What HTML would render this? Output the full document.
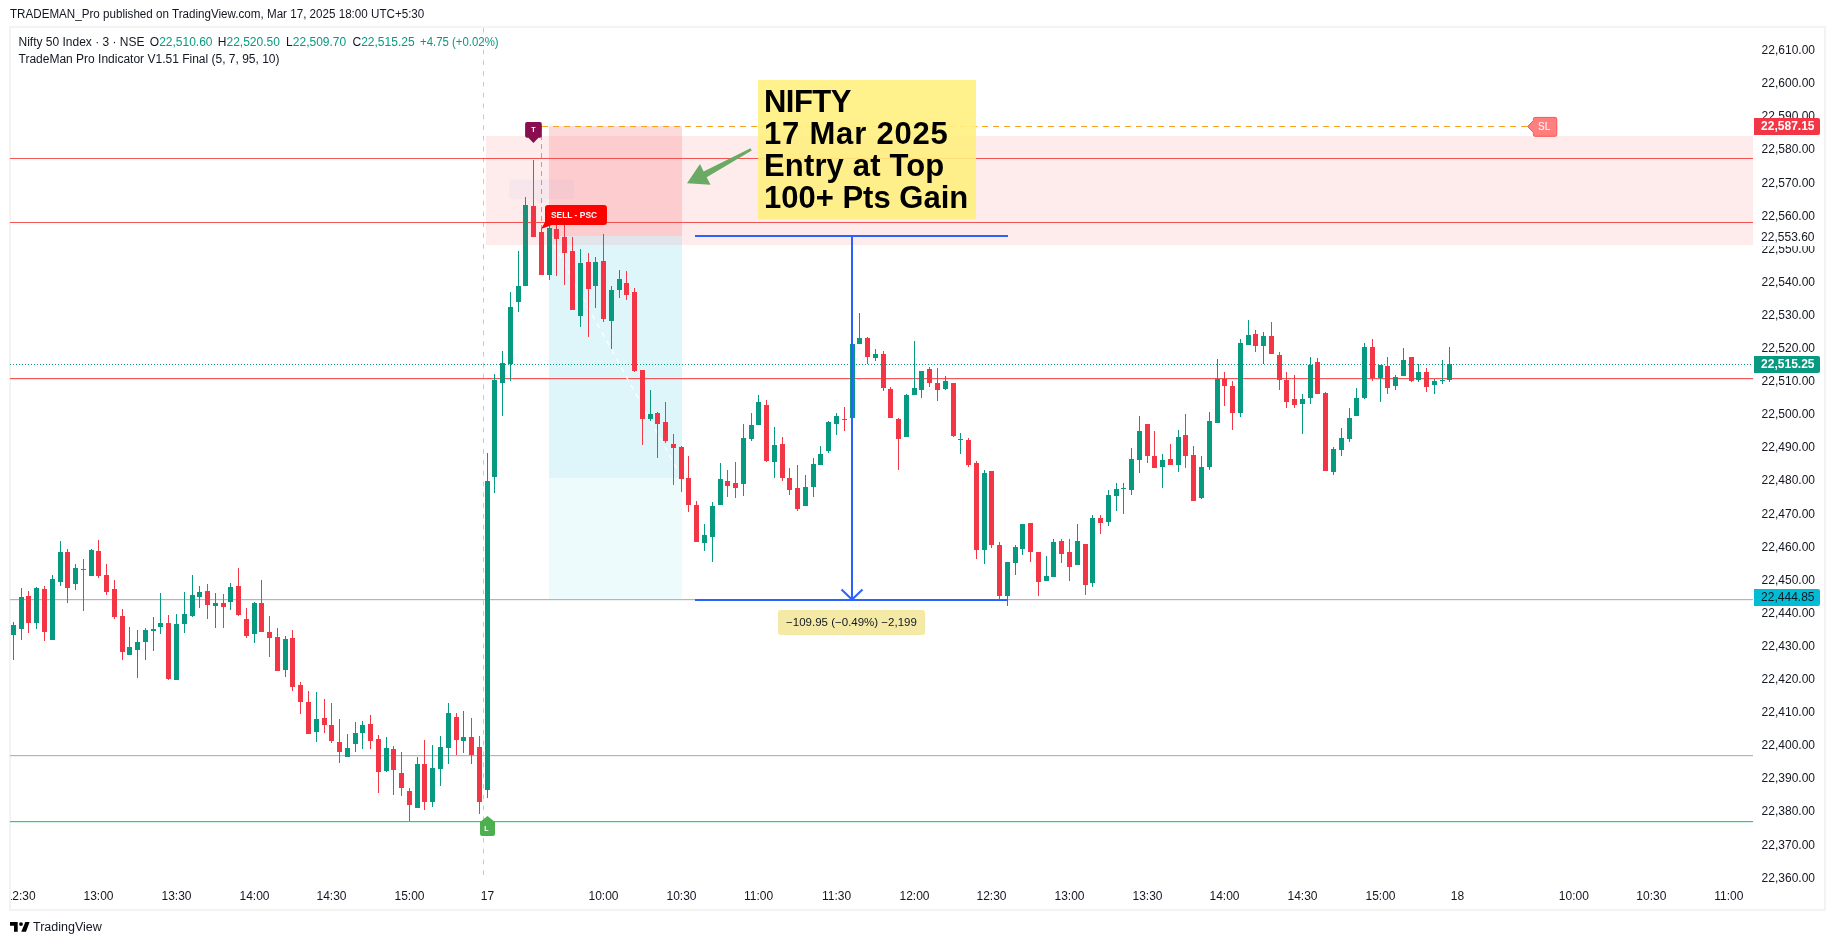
<!DOCTYPE html>
<html><head><meta charset="utf-8">
<style>
html,body{margin:0;padding:0;background:#fff;}
body{width:1835px;height:945px;position:relative;overflow:hidden;font-family:"Liberation Sans",sans-serif;color:#131722;-webkit-font-smoothing:antialiased;}
div{-webkit-font-smoothing:antialiased;}
.wc{position:absolute;left:0;top:0;width:1835px;height:945px;will-change:transform;}
.hdr{position:absolute;left:10px;top:8.4px;font-size:12.5px;line-height:12.5px;color:#131722;white-space:nowrap;transform:scaleX(0.93);transform-origin:0 0;}
.frame{position:absolute;left:9px;top:26px;width:1813px;height:881px;border:2px solid #f3f3f3;}
svg{position:absolute;left:0;top:0;}
.leg{position:absolute;font-size:12px;line-height:12px;white-space:nowrap;color:#131722;}
.g{color:#089981;}
.pl{position:absolute;left:1750px;width:65px;text-align:right;font-size:12px;line-height:14px;color:#131722;white-space:nowrap;}
.pb{position:absolute;left:1754px;width:66px;height:17px;box-sizing:border-box;padding-right:5.5px;text-align:right;font-size:12px;line-height:17px;white-space:nowrap;border-radius:0 2px 2px 0;}
.b{font-weight:bold;}
.tl{position:absolute;top:888.6px;width:60px;text-align:center;font-size:12px;line-height:14px;color:#131722;}
.note{position:absolute;left:764px;top:86.3px;font-size:31px;line-height:32px;font-weight:bold;color:#000;white-space:nowrap;}
.lbl{position:absolute;font-size:9px;font-weight:bold;color:#fff;white-space:nowrap;}
.ml{position:absolute;left:778px;top:615px;width:147px;text-align:center;font-size:11.5px;line-height:14px;color:#131722;}
.foot{position:absolute;left:33px;top:921.1px;font-size:12.5px;line-height:12.5px;color:#131722;}
</style></head><body>
<div class="wc"><div class="hdr">TRADEMAN_Pro published on TradingView.com, Mar 17, 2025 18:00 UTC+5:30</div>
<div class="frame"></div>
<svg width="1835" height="945" viewBox="0 0 1835 945">
<rect x="549" y="126" width="133" height="110" fill="rgba(242,54,69,0.18)"/>
<rect x="549" y="236" width="133" height="242" fill="rgba(0,188,212,0.13)"/>
<rect x="549" y="478" width="133" height="122" fill="rgba(0,188,212,0.065)"/>
<line x1="483.5" y1="28" x2="483.5" y2="879" stroke="#b4c9f5" stroke-width="1" stroke-dasharray="4.6,6.2"/>
<rect x="10" y="158" width="1743" height="1" fill="#f45757"/>
<rect x="10" y="222" width="1743" height="1" fill="#f45757"/>
<rect x="10" y="378" width="1743" height="1.2" fill="#f45757"/>
<rect x="10" y="599" width="1743" height="1.2" fill="#b2b5be"/>
<rect x="10" y="755" width="1743" height="1.2" fill="#b2b5be"/>
<rect x="10" y="821" width="1743" height="1.2" fill="#22d17a"/>
<line x1="10" y1="364.5" x2="1753" y2="364.5" stroke="#089981" stroke-width="1" stroke-dasharray="1,2"/>
<line x1="542" y1="126.5" x2="1530" y2="126.5" stroke="#f7a21b" stroke-width="1" stroke-dasharray="6,5"/>
<line x1="541.5" y1="126" x2="541.5" y2="229" stroke="#f7a21b" stroke-width="1" stroke-dasharray="5,4"/>
<line x1="549" y1="236" x2="682" y2="478" stroke="#ffffff" stroke-width="1.3" stroke-dasharray="5,5"/>
<rect x="11" y="625" width="5" height="10" fill="#089981"/>
<rect x="13" y="622" width="1" height="3" fill="#089981"/>
<rect x="13" y="635" width="1" height="25" fill="#089981"/>
<rect x="19" y="597" width="5" height="32" fill="#089981"/>
<rect x="21" y="588" width="1" height="9" fill="#089981"/>
<rect x="21" y="629" width="1" height="11" fill="#089981"/>
<rect x="26" y="596" width="5" height="27" fill="#f23645"/>
<rect x="28" y="591" width="1" height="5" fill="#f23645"/>
<rect x="28" y="623" width="1" height="10" fill="#f23645"/>
<rect x="34" y="588" width="5" height="35" fill="#089981"/>
<rect x="36" y="587" width="1" height="1" fill="#089981"/>
<rect x="36" y="623" width="1" height="6" fill="#089981"/>
<rect x="42" y="589" width="5" height="43" fill="#f23645"/>
<rect x="44" y="586" width="1" height="3" fill="#f23645"/>
<rect x="44" y="632" width="1" height="9" fill="#f23645"/>
<rect x="50" y="579" width="5" height="61" fill="#089981"/>
<rect x="52" y="575" width="1" height="4" fill="#089981"/>
<rect x="58" y="552" width="5" height="30" fill="#089981"/>
<rect x="60" y="541" width="1" height="11" fill="#089981"/>
<rect x="60" y="582" width="1" height="4" fill="#089981"/>
<rect x="65" y="552" width="5" height="36" fill="#f23645"/>
<rect x="67" y="549" width="1" height="3" fill="#f23645"/>
<rect x="67" y="588" width="1" height="15" fill="#f23645"/>
<rect x="73" y="568" width="5" height="16" fill="#089981"/>
<rect x="75" y="564" width="1" height="4" fill="#089981"/>
<rect x="75" y="584" width="1" height="6" fill="#089981"/>
<rect x="81" y="569" width="5" height="1" fill="#f23645"/>
<rect x="83" y="559" width="1" height="10" fill="#f23645"/>
<rect x="83" y="570" width="1" height="41" fill="#f23645"/>
<rect x="89" y="550" width="5" height="26" fill="#089981"/>
<rect x="91" y="549" width="1" height="1" fill="#089981"/>
<rect x="96" y="551" width="5" height="25" fill="#f23645"/>
<rect x="98" y="540" width="1" height="11" fill="#f23645"/>
<rect x="98" y="576" width="1" height="2" fill="#f23645"/>
<rect x="104" y="575" width="5" height="17" fill="#f23645"/>
<rect x="106" y="564" width="1" height="11" fill="#f23645"/>
<rect x="106" y="592" width="1" height="3" fill="#f23645"/>
<rect x="112" y="589" width="5" height="28" fill="#f23645"/>
<rect x="114" y="580" width="1" height="9" fill="#f23645"/>
<rect x="114" y="617" width="1" height="2" fill="#f23645"/>
<rect x="120" y="616" width="5" height="36" fill="#f23645"/>
<rect x="122" y="609" width="1" height="7" fill="#f23645"/>
<rect x="122" y="652" width="1" height="8" fill="#f23645"/>
<rect x="127" y="647" width="5" height="8" fill="#089981"/>
<rect x="129" y="627" width="1" height="20" fill="#089981"/>
<rect x="135" y="642" width="5" height="8" fill="#089981"/>
<rect x="137" y="630" width="1" height="12" fill="#089981"/>
<rect x="137" y="650" width="1" height="28" fill="#089981"/>
<rect x="143" y="630" width="5" height="12" fill="#089981"/>
<rect x="145" y="628" width="1" height="2" fill="#089981"/>
<rect x="145" y="642" width="1" height="18" fill="#089981"/>
<rect x="151" y="629" width="5" height="2" fill="#089981"/>
<rect x="153" y="617" width="1" height="12" fill="#089981"/>
<rect x="153" y="631" width="1" height="20" fill="#089981"/>
<rect x="158" y="623" width="5" height="4" fill="#089981"/>
<rect x="160" y="593" width="1" height="30" fill="#089981"/>
<rect x="160" y="627" width="1" height="7" fill="#089981"/>
<rect x="166" y="623" width="5" height="56" fill="#f23645"/>
<rect x="168" y="615" width="1" height="8" fill="#f23645"/>
<rect x="168" y="679" width="1" height="1" fill="#f23645"/>
<rect x="174" y="624" width="5" height="56" fill="#089981"/>
<rect x="176" y="614" width="1" height="10" fill="#089981"/>
<rect x="182" y="614" width="5" height="10" fill="#089981"/>
<rect x="184" y="592" width="1" height="22" fill="#089981"/>
<rect x="184" y="624" width="1" height="9" fill="#089981"/>
<rect x="190" y="595" width="5" height="21" fill="#089981"/>
<rect x="192" y="575" width="1" height="20" fill="#089981"/>
<rect x="192" y="616" width="1" height="1" fill="#089981"/>
<rect x="197" y="592" width="5" height="5" fill="#089981"/>
<rect x="199" y="586" width="1" height="6" fill="#089981"/>
<rect x="199" y="597" width="1" height="11" fill="#089981"/>
<rect x="205" y="591" width="5" height="14" fill="#f23645"/>
<rect x="207" y="584" width="1" height="7" fill="#f23645"/>
<rect x="207" y="605" width="1" height="14" fill="#f23645"/>
<rect x="213" y="603" width="5" height="3" fill="#089981"/>
<rect x="215" y="593" width="1" height="10" fill="#089981"/>
<rect x="215" y="606" width="1" height="22" fill="#089981"/>
<rect x="221" y="603" width="5" height="4" fill="#f23645"/>
<rect x="223" y="594" width="1" height="9" fill="#f23645"/>
<rect x="223" y="607" width="1" height="21" fill="#f23645"/>
<rect x="228" y="587" width="5" height="15" fill="#089981"/>
<rect x="230" y="583" width="1" height="4" fill="#089981"/>
<rect x="230" y="602" width="1" height="8" fill="#089981"/>
<rect x="236" y="586" width="5" height="29" fill="#f23645"/>
<rect x="238" y="568" width="1" height="18" fill="#f23645"/>
<rect x="238" y="615" width="1" height="1" fill="#f23645"/>
<rect x="244" y="619" width="5" height="17" fill="#f23645"/>
<rect x="246" y="608" width="1" height="11" fill="#f23645"/>
<rect x="246" y="636" width="1" height="2" fill="#f23645"/>
<rect x="252" y="603" width="5" height="31" fill="#089981"/>
<rect x="254" y="602" width="1" height="1" fill="#089981"/>
<rect x="254" y="634" width="1" height="9" fill="#089981"/>
<rect x="259" y="603" width="5" height="29" fill="#f23645"/>
<rect x="261" y="580" width="1" height="23" fill="#f23645"/>
<rect x="267" y="632" width="5" height="6" fill="#f23645"/>
<rect x="269" y="616" width="1" height="16" fill="#f23645"/>
<rect x="269" y="638" width="1" height="19" fill="#f23645"/>
<rect x="275" y="637" width="5" height="34" fill="#f23645"/>
<rect x="277" y="628" width="1" height="9" fill="#f23645"/>
<rect x="283" y="639" width="5" height="31" fill="#089981"/>
<rect x="285" y="636" width="1" height="3" fill="#089981"/>
<rect x="285" y="670" width="1" height="7" fill="#089981"/>
<rect x="290" y="638" width="5" height="49" fill="#f23645"/>
<rect x="292" y="630" width="1" height="8" fill="#f23645"/>
<rect x="292" y="687" width="1" height="4" fill="#f23645"/>
<rect x="298" y="685" width="5" height="17" fill="#f23645"/>
<rect x="300" y="682" width="1" height="3" fill="#f23645"/>
<rect x="300" y="702" width="1" height="12" fill="#f23645"/>
<rect x="306" y="702" width="5" height="32" fill="#f23645"/>
<rect x="308" y="691" width="1" height="11" fill="#f23645"/>
<rect x="314" y="719" width="5" height="13" fill="#089981"/>
<rect x="316" y="692" width="1" height="27" fill="#089981"/>
<rect x="316" y="732" width="1" height="10" fill="#089981"/>
<rect x="322" y="718" width="5" height="7" fill="#f23645"/>
<rect x="324" y="699" width="1" height="19" fill="#f23645"/>
<rect x="324" y="725" width="1" height="8" fill="#f23645"/>
<rect x="329" y="725" width="5" height="16" fill="#f23645"/>
<rect x="331" y="703" width="1" height="22" fill="#f23645"/>
<rect x="331" y="741" width="1" height="2" fill="#f23645"/>
<rect x="337" y="742" width="5" height="10" fill="#f23645"/>
<rect x="339" y="719" width="1" height="23" fill="#f23645"/>
<rect x="339" y="752" width="1" height="11" fill="#f23645"/>
<rect x="345" y="748" width="5" height="9" fill="#089981"/>
<rect x="347" y="734" width="1" height="14" fill="#089981"/>
<rect x="353" y="733" width="5" height="11" fill="#089981"/>
<rect x="355" y="722" width="1" height="11" fill="#089981"/>
<rect x="355" y="744" width="1" height="8" fill="#089981"/>
<rect x="360" y="725" width="5" height="8" fill="#089981"/>
<rect x="362" y="721" width="1" height="4" fill="#089981"/>
<rect x="362" y="733" width="1" height="16" fill="#089981"/>
<rect x="368" y="724" width="5" height="17" fill="#f23645"/>
<rect x="370" y="715" width="1" height="9" fill="#f23645"/>
<rect x="370" y="741" width="1" height="8" fill="#f23645"/>
<rect x="376" y="739" width="5" height="33" fill="#f23645"/>
<rect x="378" y="735" width="1" height="4" fill="#f23645"/>
<rect x="378" y="772" width="1" height="21" fill="#f23645"/>
<rect x="384" y="748" width="5" height="23" fill="#089981"/>
<rect x="386" y="737" width="1" height="11" fill="#089981"/>
<rect x="386" y="771" width="1" height="1" fill="#089981"/>
<rect x="391" y="749" width="5" height="21" fill="#f23645"/>
<rect x="393" y="746" width="1" height="3" fill="#f23645"/>
<rect x="393" y="770" width="1" height="25" fill="#f23645"/>
<rect x="399" y="773" width="5" height="15" fill="#f23645"/>
<rect x="401" y="752" width="1" height="21" fill="#f23645"/>
<rect x="401" y="788" width="1" height="8" fill="#f23645"/>
<rect x="407" y="791" width="5" height="14" fill="#f23645"/>
<rect x="409" y="788" width="1" height="3" fill="#f23645"/>
<rect x="409" y="805" width="1" height="16" fill="#f23645"/>
<rect x="415" y="764" width="5" height="44" fill="#089981"/>
<rect x="417" y="757" width="1" height="7" fill="#089981"/>
<rect x="422" y="764" width="5" height="38" fill="#f23645"/>
<rect x="424" y="740" width="1" height="24" fill="#f23645"/>
<rect x="424" y="802" width="1" height="8" fill="#f23645"/>
<rect x="430" y="768" width="5" height="34" fill="#089981"/>
<rect x="432" y="745" width="1" height="23" fill="#089981"/>
<rect x="432" y="802" width="1" height="5" fill="#089981"/>
<rect x="438" y="747" width="5" height="22" fill="#089981"/>
<rect x="440" y="736" width="1" height="11" fill="#089981"/>
<rect x="440" y="769" width="1" height="17" fill="#089981"/>
<rect x="446" y="713" width="5" height="35" fill="#089981"/>
<rect x="448" y="703" width="1" height="10" fill="#089981"/>
<rect x="448" y="748" width="1" height="16" fill="#089981"/>
<rect x="454" y="717" width="5" height="23" fill="#f23645"/>
<rect x="456" y="713" width="1" height="4" fill="#f23645"/>
<rect x="456" y="740" width="1" height="15" fill="#f23645"/>
<rect x="461" y="737" width="5" height="4" fill="#089981"/>
<rect x="463" y="711" width="1" height="26" fill="#089981"/>
<rect x="463" y="741" width="1" height="12" fill="#089981"/>
<rect x="469" y="737" width="5" height="18" fill="#f23645"/>
<rect x="471" y="718" width="1" height="19" fill="#f23645"/>
<rect x="471" y="755" width="1" height="9" fill="#f23645"/>
<rect x="477" y="747" width="5" height="55" fill="#f23645"/>
<rect x="479" y="736" width="1" height="11" fill="#f23645"/>
<rect x="479" y="802" width="1" height="12" fill="#f23645"/>
<rect x="485" y="481" width="5" height="309" fill="#089981"/>
<rect x="487" y="453" width="1" height="28" fill="#089981"/>
<rect x="487" y="790" width="1" height="8" fill="#089981"/>
<rect x="492" y="380" width="5" height="97" fill="#089981"/>
<rect x="494" y="374" width="1" height="6" fill="#089981"/>
<rect x="494" y="477" width="1" height="16" fill="#089981"/>
<rect x="500" y="363" width="5" height="20" fill="#089981"/>
<rect x="502" y="351" width="1" height="12" fill="#089981"/>
<rect x="502" y="383" width="1" height="33" fill="#089981"/>
<rect x="508" y="307" width="5" height="57" fill="#089981"/>
<rect x="510" y="292" width="1" height="15" fill="#089981"/>
<rect x="510" y="364" width="1" height="17" fill="#089981"/>
<rect x="516" y="286" width="5" height="16" fill="#089981"/>
<rect x="518" y="251" width="1" height="35" fill="#089981"/>
<rect x="518" y="302" width="1" height="10" fill="#089981"/>
<rect x="523" y="205" width="5" height="81" fill="#089981"/>
<rect x="525" y="197" width="1" height="8" fill="#089981"/>
<rect x="531" y="206" width="5" height="31" fill="#f23645"/>
<rect x="533" y="160" width="1" height="46" fill="#f23645"/>
<rect x="539" y="232" width="5" height="43" fill="#f23645"/>
<rect x="541" y="229" width="1" height="3" fill="#f23645"/>
<rect x="547" y="228" width="5" height="47" fill="#089981"/>
<rect x="549" y="225" width="1" height="3" fill="#089981"/>
<rect x="549" y="275" width="1" height="5" fill="#089981"/>
<rect x="554" y="229" width="5" height="10" fill="#f23645"/>
<rect x="556" y="225" width="1" height="4" fill="#f23645"/>
<rect x="556" y="239" width="1" height="37" fill="#f23645"/>
<rect x="562" y="237" width="5" height="16" fill="#f23645"/>
<rect x="564" y="225" width="1" height="12" fill="#f23645"/>
<rect x="564" y="253" width="1" height="32" fill="#f23645"/>
<rect x="570" y="251" width="5" height="59" fill="#f23645"/>
<rect x="572" y="237" width="1" height="14" fill="#f23645"/>
<rect x="578" y="263" width="5" height="53" fill="#089981"/>
<rect x="580" y="249" width="1" height="14" fill="#089981"/>
<rect x="580" y="316" width="1" height="11" fill="#089981"/>
<rect x="586" y="262" width="5" height="27" fill="#f23645"/>
<rect x="588" y="253" width="1" height="9" fill="#f23645"/>
<rect x="588" y="289" width="1" height="48" fill="#f23645"/>
<rect x="593" y="262" width="5" height="24" fill="#089981"/>
<rect x="595" y="257" width="1" height="5" fill="#089981"/>
<rect x="595" y="286" width="1" height="22" fill="#089981"/>
<rect x="601" y="261" width="5" height="58" fill="#f23645"/>
<rect x="603" y="234" width="1" height="27" fill="#f23645"/>
<rect x="603" y="319" width="1" height="3" fill="#f23645"/>
<rect x="609" y="290" width="5" height="31" fill="#089981"/>
<rect x="611" y="286" width="1" height="4" fill="#089981"/>
<rect x="611" y="321" width="1" height="28" fill="#089981"/>
<rect x="617" y="279" width="5" height="11" fill="#089981"/>
<rect x="619" y="270" width="1" height="9" fill="#089981"/>
<rect x="619" y="290" width="1" height="8" fill="#089981"/>
<rect x="624" y="283" width="5" height="12" fill="#f23645"/>
<rect x="626" y="271" width="1" height="12" fill="#f23645"/>
<rect x="626" y="295" width="1" height="5" fill="#f23645"/>
<rect x="632" y="292" width="5" height="79" fill="#f23645"/>
<rect x="634" y="288" width="1" height="4" fill="#f23645"/>
<rect x="634" y="371" width="1" height="1" fill="#f23645"/>
<rect x="640" y="370" width="5" height="49" fill="#f23645"/>
<rect x="642" y="419" width="1" height="26" fill="#f23645"/>
<rect x="648" y="414" width="5" height="5" fill="#089981"/>
<rect x="650" y="390" width="1" height="24" fill="#089981"/>
<rect x="650" y="419" width="1" height="2" fill="#089981"/>
<rect x="655" y="413" width="5" height="11" fill="#f23645"/>
<rect x="657" y="412" width="1" height="1" fill="#f23645"/>
<rect x="657" y="424" width="1" height="34" fill="#f23645"/>
<rect x="663" y="422" width="5" height="19" fill="#f23645"/>
<rect x="665" y="402" width="1" height="20" fill="#f23645"/>
<rect x="665" y="441" width="1" height="2" fill="#f23645"/>
<rect x="671" y="444" width="5" height="4" fill="#f23645"/>
<rect x="673" y="434" width="1" height="10" fill="#f23645"/>
<rect x="673" y="448" width="1" height="37" fill="#f23645"/>
<rect x="679" y="447" width="5" height="32" fill="#f23645"/>
<rect x="681" y="446" width="1" height="1" fill="#f23645"/>
<rect x="681" y="479" width="1" height="13" fill="#f23645"/>
<rect x="686" y="478" width="5" height="27" fill="#f23645"/>
<rect x="688" y="456" width="1" height="22" fill="#f23645"/>
<rect x="688" y="505" width="1" height="7" fill="#f23645"/>
<rect x="694" y="505" width="5" height="37" fill="#f23645"/>
<rect x="696" y="501" width="1" height="4" fill="#f23645"/>
<rect x="702" y="535" width="5" height="8" fill="#089981"/>
<rect x="704" y="524" width="1" height="11" fill="#089981"/>
<rect x="704" y="543" width="1" height="8" fill="#089981"/>
<rect x="710" y="506" width="5" height="31" fill="#089981"/>
<rect x="712" y="502" width="1" height="4" fill="#089981"/>
<rect x="712" y="537" width="1" height="25" fill="#089981"/>
<rect x="718" y="479" width="5" height="26" fill="#089981"/>
<rect x="720" y="463" width="1" height="16" fill="#089981"/>
<rect x="725" y="481" width="5" height="5" fill="#f23645"/>
<rect x="727" y="470" width="1" height="11" fill="#f23645"/>
<rect x="727" y="486" width="1" height="11" fill="#f23645"/>
<rect x="733" y="483" width="5" height="5" fill="#f23645"/>
<rect x="735" y="462" width="1" height="21" fill="#f23645"/>
<rect x="735" y="488" width="1" height="10" fill="#f23645"/>
<rect x="741" y="438" width="5" height="46" fill="#089981"/>
<rect x="743" y="424" width="1" height="14" fill="#089981"/>
<rect x="743" y="484" width="1" height="12" fill="#089981"/>
<rect x="749" y="425" width="5" height="14" fill="#089981"/>
<rect x="751" y="413" width="1" height="12" fill="#089981"/>
<rect x="751" y="439" width="1" height="2" fill="#089981"/>
<rect x="756" y="402" width="5" height="23" fill="#089981"/>
<rect x="758" y="395" width="1" height="7" fill="#089981"/>
<rect x="764" y="405" width="5" height="56" fill="#f23645"/>
<rect x="766" y="400" width="1" height="5" fill="#f23645"/>
<rect x="766" y="461" width="1" height="1" fill="#f23645"/>
<rect x="772" y="445" width="5" height="17" fill="#089981"/>
<rect x="774" y="427" width="1" height="18" fill="#089981"/>
<rect x="774" y="462" width="1" height="16" fill="#089981"/>
<rect x="780" y="444" width="5" height="34" fill="#f23645"/>
<rect x="782" y="437" width="1" height="7" fill="#f23645"/>
<rect x="782" y="478" width="1" height="3" fill="#f23645"/>
<rect x="787" y="478" width="5" height="12" fill="#f23645"/>
<rect x="789" y="468" width="1" height="10" fill="#f23645"/>
<rect x="789" y="490" width="1" height="5" fill="#f23645"/>
<rect x="795" y="488" width="5" height="21" fill="#f23645"/>
<rect x="797" y="465" width="1" height="23" fill="#f23645"/>
<rect x="797" y="509" width="1" height="2" fill="#f23645"/>
<rect x="803" y="487" width="5" height="19" fill="#089981"/>
<rect x="805" y="475" width="1" height="12" fill="#089981"/>
<rect x="811" y="464" width="5" height="23" fill="#089981"/>
<rect x="813" y="458" width="1" height="6" fill="#089981"/>
<rect x="813" y="487" width="1" height="10" fill="#089981"/>
<rect x="818" y="454" width="5" height="11" fill="#089981"/>
<rect x="820" y="446" width="1" height="8" fill="#089981"/>
<rect x="826" y="422" width="5" height="29" fill="#089981"/>
<rect x="828" y="421" width="1" height="1" fill="#089981"/>
<rect x="828" y="451" width="1" height="2" fill="#089981"/>
<rect x="834" y="416" width="5" height="8" fill="#089981"/>
<rect x="836" y="413" width="1" height="3" fill="#089981"/>
<rect x="836" y="424" width="1" height="11" fill="#089981"/>
<rect x="842" y="419" width="5" height="1" fill="#f23645"/>
<rect x="844" y="407" width="1" height="12" fill="#f23645"/>
<rect x="844" y="420" width="1" height="11" fill="#f23645"/>
<rect x="850" y="344" width="5" height="74" fill="#089981"/>
<rect x="857" y="338" width="5" height="6" fill="#089981"/>
<rect x="859" y="313" width="1" height="25" fill="#089981"/>
<rect x="865" y="338" width="5" height="19" fill="#f23645"/>
<rect x="867" y="337" width="1" height="1" fill="#f23645"/>
<rect x="867" y="357" width="1" height="7" fill="#f23645"/>
<rect x="873" y="354" width="5" height="4" fill="#089981"/>
<rect x="875" y="349" width="1" height="5" fill="#089981"/>
<rect x="875" y="358" width="1" height="3" fill="#089981"/>
<rect x="881" y="354" width="5" height="34" fill="#f23645"/>
<rect x="883" y="351" width="1" height="3" fill="#f23645"/>
<rect x="883" y="388" width="1" height="3" fill="#f23645"/>
<rect x="888" y="389" width="5" height="29" fill="#f23645"/>
<rect x="890" y="387" width="1" height="2" fill="#f23645"/>
<rect x="896" y="419" width="5" height="20" fill="#f23645"/>
<rect x="898" y="418" width="1" height="1" fill="#f23645"/>
<rect x="898" y="439" width="1" height="31" fill="#f23645"/>
<rect x="904" y="395" width="5" height="42" fill="#089981"/>
<rect x="906" y="394" width="1" height="1" fill="#089981"/>
<rect x="912" y="388" width="5" height="7" fill="#089981"/>
<rect x="914" y="341" width="1" height="47" fill="#089981"/>
<rect x="919" y="371" width="5" height="19" fill="#089981"/>
<rect x="921" y="390" width="1" height="8" fill="#089981"/>
<rect x="927" y="369" width="5" height="14" fill="#f23645"/>
<rect x="929" y="367" width="1" height="2" fill="#f23645"/>
<rect x="929" y="383" width="1" height="4" fill="#f23645"/>
<rect x="935" y="383" width="5" height="7" fill="#f23645"/>
<rect x="937" y="368" width="1" height="15" fill="#f23645"/>
<rect x="937" y="390" width="1" height="11" fill="#f23645"/>
<rect x="943" y="381" width="5" height="8" fill="#089981"/>
<rect x="945" y="376" width="1" height="5" fill="#089981"/>
<rect x="945" y="389" width="1" height="1" fill="#089981"/>
<rect x="951" y="383" width="5" height="53" fill="#f23645"/>
<rect x="953" y="436" width="1" height="1" fill="#f23645"/>
<rect x="958" y="439" width="5" height="1" fill="#089981"/>
<rect x="960" y="433" width="1" height="6" fill="#089981"/>
<rect x="960" y="440" width="1" height="14" fill="#089981"/>
<rect x="966" y="440" width="5" height="25" fill="#f23645"/>
<rect x="968" y="438" width="1" height="2" fill="#f23645"/>
<rect x="968" y="465" width="1" height="2" fill="#f23645"/>
<rect x="974" y="463" width="5" height="87" fill="#f23645"/>
<rect x="976" y="461" width="1" height="2" fill="#f23645"/>
<rect x="976" y="550" width="1" height="9" fill="#f23645"/>
<rect x="982" y="473" width="5" height="77" fill="#089981"/>
<rect x="984" y="470" width="1" height="3" fill="#089981"/>
<rect x="984" y="550" width="1" height="14" fill="#089981"/>
<rect x="989" y="471" width="5" height="74" fill="#f23645"/>
<rect x="991" y="545" width="1" height="3" fill="#f23645"/>
<rect x="997" y="545" width="5" height="51" fill="#f23645"/>
<rect x="999" y="542" width="1" height="3" fill="#f23645"/>
<rect x="999" y="596" width="1" height="3" fill="#f23645"/>
<rect x="1005" y="562" width="5" height="34" fill="#089981"/>
<rect x="1007" y="596" width="1" height="10" fill="#089981"/>
<rect x="1013" y="547" width="5" height="16" fill="#089981"/>
<rect x="1015" y="545" width="1" height="2" fill="#089981"/>
<rect x="1015" y="563" width="1" height="12" fill="#089981"/>
<rect x="1020" y="524" width="5" height="25" fill="#089981"/>
<rect x="1022" y="549" width="1" height="6" fill="#089981"/>
<rect x="1028" y="523" width="5" height="29" fill="#f23645"/>
<rect x="1030" y="552" width="1" height="10" fill="#f23645"/>
<rect x="1036" y="552" width="5" height="30" fill="#f23645"/>
<rect x="1038" y="582" width="1" height="14" fill="#f23645"/>
<rect x="1044" y="576" width="5" height="5" fill="#089981"/>
<rect x="1046" y="556" width="1" height="20" fill="#089981"/>
<rect x="1051" y="542" width="5" height="35" fill="#089981"/>
<rect x="1053" y="539" width="1" height="3" fill="#089981"/>
<rect x="1059" y="541" width="5" height="13" fill="#f23645"/>
<rect x="1061" y="539" width="1" height="2" fill="#f23645"/>
<rect x="1061" y="554" width="1" height="9" fill="#f23645"/>
<rect x="1067" y="552" width="5" height="15" fill="#f23645"/>
<rect x="1069" y="539" width="1" height="13" fill="#f23645"/>
<rect x="1069" y="567" width="1" height="14" fill="#f23645"/>
<rect x="1075" y="541" width="5" height="24" fill="#089981"/>
<rect x="1077" y="524" width="1" height="17" fill="#089981"/>
<rect x="1083" y="544" width="5" height="41" fill="#f23645"/>
<rect x="1085" y="585" width="1" height="10" fill="#f23645"/>
<rect x="1090" y="518" width="5" height="65" fill="#089981"/>
<rect x="1092" y="515" width="1" height="3" fill="#089981"/>
<rect x="1092" y="583" width="1" height="4" fill="#089981"/>
<rect x="1098" y="518" width="5" height="5" fill="#f23645"/>
<rect x="1100" y="515" width="1" height="3" fill="#f23645"/>
<rect x="1100" y="523" width="1" height="11" fill="#f23645"/>
<rect x="1106" y="495" width="5" height="27" fill="#089981"/>
<rect x="1108" y="490" width="1" height="5" fill="#089981"/>
<rect x="1108" y="522" width="1" height="4" fill="#089981"/>
<rect x="1114" y="489" width="5" height="7" fill="#089981"/>
<rect x="1116" y="483" width="1" height="6" fill="#089981"/>
<rect x="1116" y="496" width="1" height="15" fill="#089981"/>
<rect x="1121" y="488" width="5" height="1" fill="#089981"/>
<rect x="1123" y="483" width="1" height="5" fill="#089981"/>
<rect x="1123" y="489" width="1" height="25" fill="#089981"/>
<rect x="1129" y="459" width="5" height="31" fill="#089981"/>
<rect x="1131" y="448" width="1" height="11" fill="#089981"/>
<rect x="1131" y="490" width="1" height="5" fill="#089981"/>
<rect x="1137" y="431" width="5" height="29" fill="#089981"/>
<rect x="1139" y="416" width="1" height="15" fill="#089981"/>
<rect x="1139" y="460" width="1" height="13" fill="#089981"/>
<rect x="1145" y="424" width="5" height="32" fill="#f23645"/>
<rect x="1147" y="456" width="1" height="7" fill="#f23645"/>
<rect x="1152" y="456" width="5" height="12" fill="#f23645"/>
<rect x="1154" y="431" width="1" height="25" fill="#f23645"/>
<rect x="1160" y="460" width="5" height="7" fill="#089981"/>
<rect x="1162" y="454" width="1" height="6" fill="#089981"/>
<rect x="1162" y="467" width="1" height="21" fill="#089981"/>
<rect x="1168" y="459" width="5" height="6" fill="#f23645"/>
<rect x="1170" y="444" width="1" height="15" fill="#f23645"/>
<rect x="1176" y="437" width="5" height="28" fill="#089981"/>
<rect x="1178" y="430" width="1" height="7" fill="#089981"/>
<rect x="1178" y="465" width="1" height="7" fill="#089981"/>
<rect x="1183" y="435" width="5" height="21" fill="#f23645"/>
<rect x="1185" y="414" width="1" height="21" fill="#f23645"/>
<rect x="1185" y="456" width="1" height="12" fill="#f23645"/>
<rect x="1191" y="455" width="5" height="46" fill="#f23645"/>
<rect x="1193" y="446" width="1" height="9" fill="#f23645"/>
<rect x="1199" y="467" width="5" height="31" fill="#089981"/>
<rect x="1201" y="456" width="1" height="11" fill="#089981"/>
<rect x="1201" y="498" width="1" height="1" fill="#089981"/>
<rect x="1207" y="421" width="5" height="46" fill="#089981"/>
<rect x="1209" y="412" width="1" height="9" fill="#089981"/>
<rect x="1209" y="467" width="1" height="3" fill="#089981"/>
<rect x="1215" y="379" width="5" height="44" fill="#089981"/>
<rect x="1217" y="359" width="1" height="20" fill="#089981"/>
<rect x="1222" y="379" width="5" height="7" fill="#f23645"/>
<rect x="1224" y="372" width="1" height="7" fill="#f23645"/>
<rect x="1224" y="386" width="1" height="20" fill="#f23645"/>
<rect x="1230" y="386" width="5" height="27" fill="#f23645"/>
<rect x="1232" y="381" width="1" height="5" fill="#f23645"/>
<rect x="1232" y="413" width="1" height="17" fill="#f23645"/>
<rect x="1238" y="343" width="5" height="70" fill="#089981"/>
<rect x="1240" y="339" width="1" height="4" fill="#089981"/>
<rect x="1240" y="413" width="1" height="4" fill="#089981"/>
<rect x="1246" y="335" width="5" height="10" fill="#089981"/>
<rect x="1248" y="320" width="1" height="15" fill="#089981"/>
<rect x="1253" y="334" width="5" height="12" fill="#f23645"/>
<rect x="1255" y="330" width="1" height="4" fill="#f23645"/>
<rect x="1255" y="346" width="1" height="6" fill="#f23645"/>
<rect x="1261" y="336" width="5" height="10" fill="#089981"/>
<rect x="1263" y="332" width="1" height="4" fill="#089981"/>
<rect x="1263" y="346" width="1" height="18" fill="#089981"/>
<rect x="1269" y="336" width="5" height="18" fill="#f23645"/>
<rect x="1271" y="322" width="1" height="14" fill="#f23645"/>
<rect x="1277" y="355" width="5" height="25" fill="#f23645"/>
<rect x="1279" y="352" width="1" height="3" fill="#f23645"/>
<rect x="1279" y="380" width="1" height="10" fill="#f23645"/>
<rect x="1284" y="380" width="5" height="22" fill="#f23645"/>
<rect x="1286" y="372" width="1" height="8" fill="#f23645"/>
<rect x="1286" y="402" width="1" height="6" fill="#f23645"/>
<rect x="1292" y="399" width="5" height="6" fill="#f23645"/>
<rect x="1294" y="375" width="1" height="24" fill="#f23645"/>
<rect x="1294" y="405" width="1" height="3" fill="#f23645"/>
<rect x="1300" y="399" width="5" height="5" fill="#089981"/>
<rect x="1302" y="394" width="1" height="5" fill="#089981"/>
<rect x="1302" y="404" width="1" height="30" fill="#089981"/>
<rect x="1308" y="365" width="5" height="33" fill="#089981"/>
<rect x="1310" y="357" width="1" height="8" fill="#089981"/>
<rect x="1310" y="398" width="1" height="6" fill="#089981"/>
<rect x="1315" y="362" width="5" height="32" fill="#f23645"/>
<rect x="1317" y="358" width="1" height="4" fill="#f23645"/>
<rect x="1323" y="393" width="5" height="78" fill="#f23645"/>
<rect x="1325" y="392" width="1" height="1" fill="#f23645"/>
<rect x="1331" y="449" width="5" height="23" fill="#089981"/>
<rect x="1333" y="447" width="1" height="2" fill="#089981"/>
<rect x="1333" y="472" width="1" height="3" fill="#089981"/>
<rect x="1339" y="438" width="5" height="12" fill="#089981"/>
<rect x="1341" y="428" width="1" height="10" fill="#089981"/>
<rect x="1341" y="450" width="1" height="6" fill="#089981"/>
<rect x="1347" y="418" width="5" height="21" fill="#089981"/>
<rect x="1349" y="408" width="1" height="10" fill="#089981"/>
<rect x="1349" y="439" width="1" height="3" fill="#089981"/>
<rect x="1354" y="398" width="5" height="18" fill="#089981"/>
<rect x="1356" y="388" width="1" height="10" fill="#089981"/>
<rect x="1362" y="347" width="5" height="51" fill="#089981"/>
<rect x="1364" y="343" width="1" height="4" fill="#089981"/>
<rect x="1364" y="398" width="1" height="1" fill="#089981"/>
<rect x="1370" y="347" width="5" height="31" fill="#f23645"/>
<rect x="1372" y="339" width="1" height="8" fill="#f23645"/>
<rect x="1372" y="378" width="1" height="3" fill="#f23645"/>
<rect x="1378" y="365" width="5" height="13" fill="#089981"/>
<rect x="1380" y="378" width="1" height="24" fill="#089981"/>
<rect x="1385" y="366" width="5" height="22" fill="#f23645"/>
<rect x="1387" y="357" width="1" height="9" fill="#f23645"/>
<rect x="1387" y="388" width="1" height="6" fill="#f23645"/>
<rect x="1393" y="377" width="5" height="9" fill="#089981"/>
<rect x="1395" y="375" width="1" height="2" fill="#089981"/>
<rect x="1395" y="386" width="1" height="4" fill="#089981"/>
<rect x="1401" y="360" width="5" height="16" fill="#089981"/>
<rect x="1403" y="348" width="1" height="12" fill="#089981"/>
<rect x="1409" y="357" width="5" height="24" fill="#f23645"/>
<rect x="1411" y="381" width="1" height="1" fill="#f23645"/>
<rect x="1416" y="372" width="5" height="8" fill="#089981"/>
<rect x="1418" y="364" width="1" height="8" fill="#089981"/>
<rect x="1418" y="380" width="1" height="2" fill="#089981"/>
<rect x="1424" y="372" width="5" height="15" fill="#f23645"/>
<rect x="1426" y="368" width="1" height="4" fill="#f23645"/>
<rect x="1426" y="387" width="1" height="5" fill="#f23645"/>
<rect x="1432" y="381" width="5" height="4" fill="#089981"/>
<rect x="1434" y="379" width="1" height="2" fill="#089981"/>
<rect x="1434" y="385" width="1" height="9" fill="#089981"/>
<rect x="1440" y="380" width="5" height="1" fill="#089981"/>
<rect x="1442" y="360" width="1" height="20" fill="#089981"/>
<rect x="1442" y="381" width="1" height="3" fill="#089981"/>
<rect x="1447" y="364" width="5" height="16" fill="#089981"/>
<rect x="1449" y="347" width="1" height="17" fill="#089981"/>
<rect x="1449" y="380" width="1" height="2" fill="#089981"/>
<rect x="486" y="136" width="1267" height="109" fill="rgba(242,54,69,0.095)"/>
<rect x="695" y="235" width="313" height="2" fill="#2962ff"/>
<rect x="695" y="599" width="313" height="2" fill="#2962ff"/>
<rect x="851" y="236" width="2" height="364" fill="#2962ff"/>
<polyline points="841.5,589.5 852,599.5 862.5,589.5" fill="none" stroke="#2962ff" stroke-width="2"/>
<path d="M750.5,148.3 L751.8,150.6 L706.7,177.2 L710.5,184.8 L687,183.2 L700,164 L703.6,171.6 Z" fill="#6aaa64"/>
<rect x="758" y="80" width="218" height="139" fill="rgba(255,240,128,0.9)"/>
<path d="M1527.5,126.5 L1533.3,120.7 L1533.3,119.2 Q1533.3,117.4 1535.1,117.4 L1555,117.4 Q1556.8,117.4 1556.8,119.2 L1556.8,134.5 Q1556.8,136.3 1555,136.3 L1535.1,136.3 Q1533.3,136.3 1533.3,134.5 L1533.3,132.3 Z" fill="#ff7f7f" stroke="#ff5252" stroke-width="1"/>
<path d="M527,122.1 L540,122.1 Q541.8,122.1 541.8,124 L541.8,135.8 Q541.8,137.7 540,137.7 L538.5,137.7 L533.4,143.1 L528.4,137.7 L527,137.7 Q525.1,137.7 525.1,135.8 L525.1,124 Q525.1,122.1 527,122.1 Z" fill="#880e4f"/>
<path d="M511,179.5 L572,179.5 Q574,179.5 574,181.5 L574,197 Q574,199 572,199 L546,199 L541,204 L536,199 L511,199 Q509,199 509,197 L509,181.5 Q509,179.5 511,179.5 Z" fill="rgba(190,170,230,0.09)"/>
<path d="M548,205 L604,205 Q607,205 607,208 L607,222 Q607,225 604,225 L552,225 L541,229 L545,222 L545,208 Q545,205 548,205 Z" fill="#ff0000"/>
<path d="M487.5,816 L495,822 L495,833.8 Q495,836 492.8,836 L482.2,836 Q480,836 480,833.8 L480,822 Z" fill="#4caf50"/>
<rect x="778" y="610" width="147" height="25" rx="3" fill="#f4eaa5"/>
<path d="M10,922 H17.7 V931.7 H14 V925.8 H10 Z M25.3,922 H29.6 L26,931.7 H21.3 Z" fill="#000"/><circle cx="21" cy="924.1" r="1.9" fill="#000"/>
</svg>
<div class="leg" style="top:35.6px;left:18.5px">Nifty 50 Index · 3 · NSE</div>
<div class="leg" style="top:35.6px;left:149.8px">O<span class="g">22,510.60</span></div>
<div class="leg" style="top:35.6px;left:217.8px">H<span class="g">22,520.50</span></div>
<div class="leg" style="top:35.6px;left:286.1px">L<span class="g">22,509.70</span></div>
<div class="leg" style="top:35.6px;left:352.5px">C<span class="g">22,515.25</span></div>
<div class="leg g" style="top:35.6px;left:419.6px;transform:scaleX(0.95);transform-origin:0 0">+4.75 (+0.02%)</div>
<div class="leg" style="top:52.6px;left:18.5px">TradeMan Pro Indicator V1.51 Final (5, 7, 95, 10)</div>
<div class="pl" style="top:43.1px">22,610.00</div>
<div class="pl" style="top:76.2px">22,600.00</div>
<div class="pl" style="top:109.3px">22,590.00</div>
<div class="pl" style="top:142.4px">22,580.00</div>
<div class="pl" style="top:175.5px">22,570.00</div>
<div class="pl" style="top:208.6px">22,560.00</div>
<div class="pl" style="top:241.7px">22,550.00</div>
<div class="pl" style="top:274.8px">22,540.00</div>
<div class="pl" style="top:307.9px">22,530.00</div>
<div class="pl" style="top:341.0px">22,520.00</div>
<div class="pl" style="top:374.1px">22,510.00</div>
<div class="pl" style="top:407.2px">22,500.00</div>
<div class="pl" style="top:440.3px">22,490.00</div>
<div class="pl" style="top:473.4px">22,480.00</div>
<div class="pl" style="top:506.5px">22,470.00</div>
<div class="pl" style="top:539.6px">22,460.00</div>
<div class="pl" style="top:572.7px">22,450.00</div>
<div class="pl" style="top:605.8px">22,440.00</div>
<div class="pl" style="top:638.9px">22,430.00</div>
<div class="pl" style="top:672.0px">22,420.00</div>
<div class="pl" style="top:705.1px">22,410.00</div>
<div class="pl" style="top:738.2px">22,400.00</div>
<div class="pl" style="top:771.3px">22,390.00</div>
<div class="pl" style="top:804.4px">22,380.00</div>
<div class="pl" style="top:837.5px">22,370.00</div>
<div class="pl" style="top:870.6px">22,360.00</div>
<div class="pb b" style="top:118px;background:#f23645;color:#fff">22,587.15</div>
<div class="pb" style="top:228.6px;background:#fff;color:#131722">22,553.60</div>
<div class="pb b" style="top:356px;background:#089981;color:#fff">22,515.25</div>
<div class="pb" style="top:589px;background:#00bcd4;color:#131722">22,444.85</div>
<div style="position:absolute;left:11px;top:0;width:1742px;height:945px;overflow:hidden"><div class="tl" style="left:-20.3px">12:30</div>
<div class="tl" style="left:57.5px">13:00</div>
<div class="tl" style="left:135.5px">13:30</div>
<div class="tl" style="left:213.5px">14:00</div>
<div class="tl" style="left:290.5px">14:30</div>
<div class="tl" style="left:368.5px">15:00</div>
<div class="tl" style="left:446.5px">17</div>
<div class="tl" style="left:562.5px">10:00</div>
<div class="tl" style="left:640.5px">10:30</div>
<div class="tl" style="left:717.5px">11:00</div>
<div class="tl" style="left:795.5px">11:30</div>
<div class="tl" style="left:873.5px">12:00</div>
<div class="tl" style="left:950.5px">12:30</div>
<div class="tl" style="left:1028.5px">13:00</div>
<div class="tl" style="left:1106.5px">13:30</div>
<div class="tl" style="left:1183.5px">14:00</div>
<div class="tl" style="left:1261.5px">14:30</div>
<div class="tl" style="left:1339.5px">15:00</div>
<div class="tl" style="left:1416.5px">18</div>
<div class="tl" style="left:1532.8px">10:00</div>
<div class="tl" style="left:1610.3px">10:30</div>
<div class="tl" style="left:1687.8px">11:00</div></div>
<div class="note"><span style="letter-spacing:-0.55px">NIFTY</span><br><span style="letter-spacing:0.8px">17 Mar 2025</span><br><span style="letter-spacing:0.15px">Entry at Top</span><br>100+ Pts Gain</div>
<div class="lbl" style="left:1534.2px;top:121.5px;width:20px;text-align:center;font-size:10px;line-height:10px;font-weight:normal">SL</div>
<div class="lbl" style="left:523.45px;top:126px;width:20px;text-align:center;font-size:7px;line-height:7px">T</div>
<div class="lbl" style="left:542.5px;top:208.8px;width:62px;text-align:center;font-size:9.7px;line-height:12px;transform:scaleX(0.87)">SELL - PSC</div>
<div class="lbl" style="left:476.3px;top:825.1px;width:20px;text-align:center;font-size:7px;line-height:7px">L</div>
<div class="ml">−109.95 (−0.49%) −2,199</div>
<div class="foot">TradingView</div></div>
</body></html>
